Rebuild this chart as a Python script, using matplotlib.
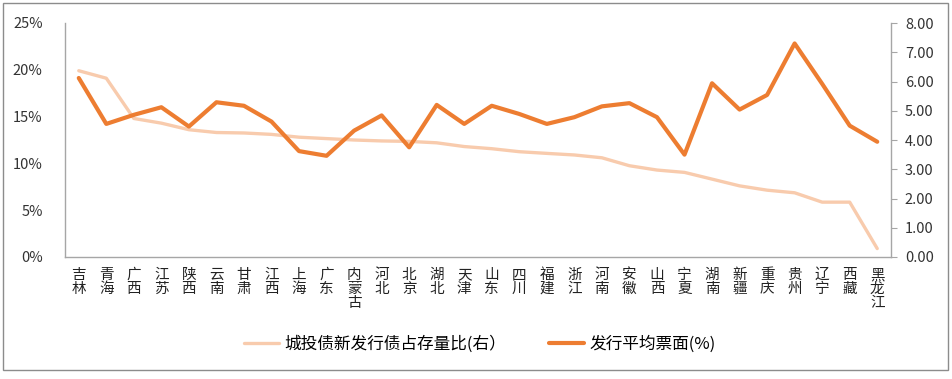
import matplotlib.pyplot as plt
from matplotlib.patches import Rectangle
from matplotlib.ticker import FuncFormatter

plt.rcParams['font.family'] = ['Noto Sans CJK SC', 'DejaVu Sans']

provinces = ['吉林', '青海', '广西', '江苏', '陕西', '云南', '甘肃', '江西', '上海', '广东',
             '内蒙古', '河北', '北京', '湖北', '天津', '山东', '四川', '福建', '浙江', '河南',
             '安徽', '山西', '宁夏', '湖南', '新疆', '重庆', '贵州', '辽宁', '西藏', '黑龙江']
# share of new issuance in outstanding stock (%), left axis
share = [19.9, 19.1, 14.8, 14.3, 13.6, 13.3, 13.25, 13.1, 12.8, 12.65,
         12.5, 12.4, 12.35, 12.2, 11.8, 11.57, 11.25, 11.07, 10.9, 10.6,
         9.75, 9.29, 9.04, 8.32, 7.6, 7.14, 6.86, 5.86, 5.86, 0.9]
# average coupon (%), right axis
coupon = [6.12, 4.55, 4.86, 5.12, 4.46, 5.29, 5.17, 4.63, 3.62, 3.46,
          4.32, 4.84, 3.75, 5.20, 4.55, 5.17, 4.89, 4.55, 4.78, 5.15,
          5.26, 4.78, 3.50, 5.94, 5.04, 5.54, 7.30, 5.92, 4.49, 3.94]

pink = '#F8CBAD'
orange = '#ED7D31'
grey = '#A6A6A6'

fig = plt.figure(figsize=(9.53, 3.79), dpi=100)
ax = fig.add_axes([65 / 953, 1 - 257 / 379, (891 - 65) / 953, (257 - 23) / 379])
ax2 = ax.twinx()

x = range(len(provinces))
l1, = ax.plot(x, share, color=pink, lw=2.4, solid_capstyle='round', zorder=2)
l2, = ax2.plot(x, coupon, color=orange, lw=3.0, solid_capstyle='round', zorder=3)
ax2.set_zorder(ax.get_zorder() + 1)
ax2.patch.set_visible(False)

ax.set_xlim(-0.5, len(provinces) - 0.5)
ax.set_ylim(0, 25)
ax.set_yticks([0, 5, 10, 15, 20, 25])
ax.yaxis.set_major_formatter(FuncFormatter(lambda v, p: '%d%%' % v))
ax2.set_ylim(0, 8)
ax2.set_yticks(range(0, 9))
ax2.yaxis.set_major_formatter(FuncFormatter(lambda v, p: '%.2f' % v))

ax.set_xticks(list(x))
ax.set_xticklabels(['\n'.join(p) for p in provinces], fontsize=10.5, linespacing=1.0, va='top')

for a in (ax, ax2):
    for s in a.spines.values():
        s.set_visible(False)
ax.spines['left'].set_visible(True)
ax.spines['bottom'].set_visible(True)
ax2.spines['right'].set_visible(True)
for s in (ax.spines['left'], ax.spines['bottom'], ax2.spines['right']):
    s.set_color(grey)
    s.set_linewidth(1.0)

ax.tick_params(axis='y', length=0, labelsize=10.5, pad=16, colors='#333333')
ax.tick_params(axis='x', length=0, pad=8, colors='#222222')
ax2.tick_params(axis='y', length=4, direction='out', color=grey, labelsize=10.5, pad=6,
                labelcolor='#333333')

fig.legend([l1, l2], ['城投债新发行债占存量比(右）', '发行平均票面(%)'],
           loc='center', bbox_to_anchor=(480 / 953, 1 - 344 / 379), ncol=2,
           frameon=False, fontsize=12, handlelength=2.1, columnspacing=2.6,
           handletextpad=0.3)

fig.patches.append(Rectangle((3 / 953, 1 - 370 / 379), 945 / 953, 367 / 379,
                             transform=fig.transFigure, fill=False,
                             edgecolor='#8C8C8C', lw=1.0))

fig.savefig('out.png', dpi=100)
